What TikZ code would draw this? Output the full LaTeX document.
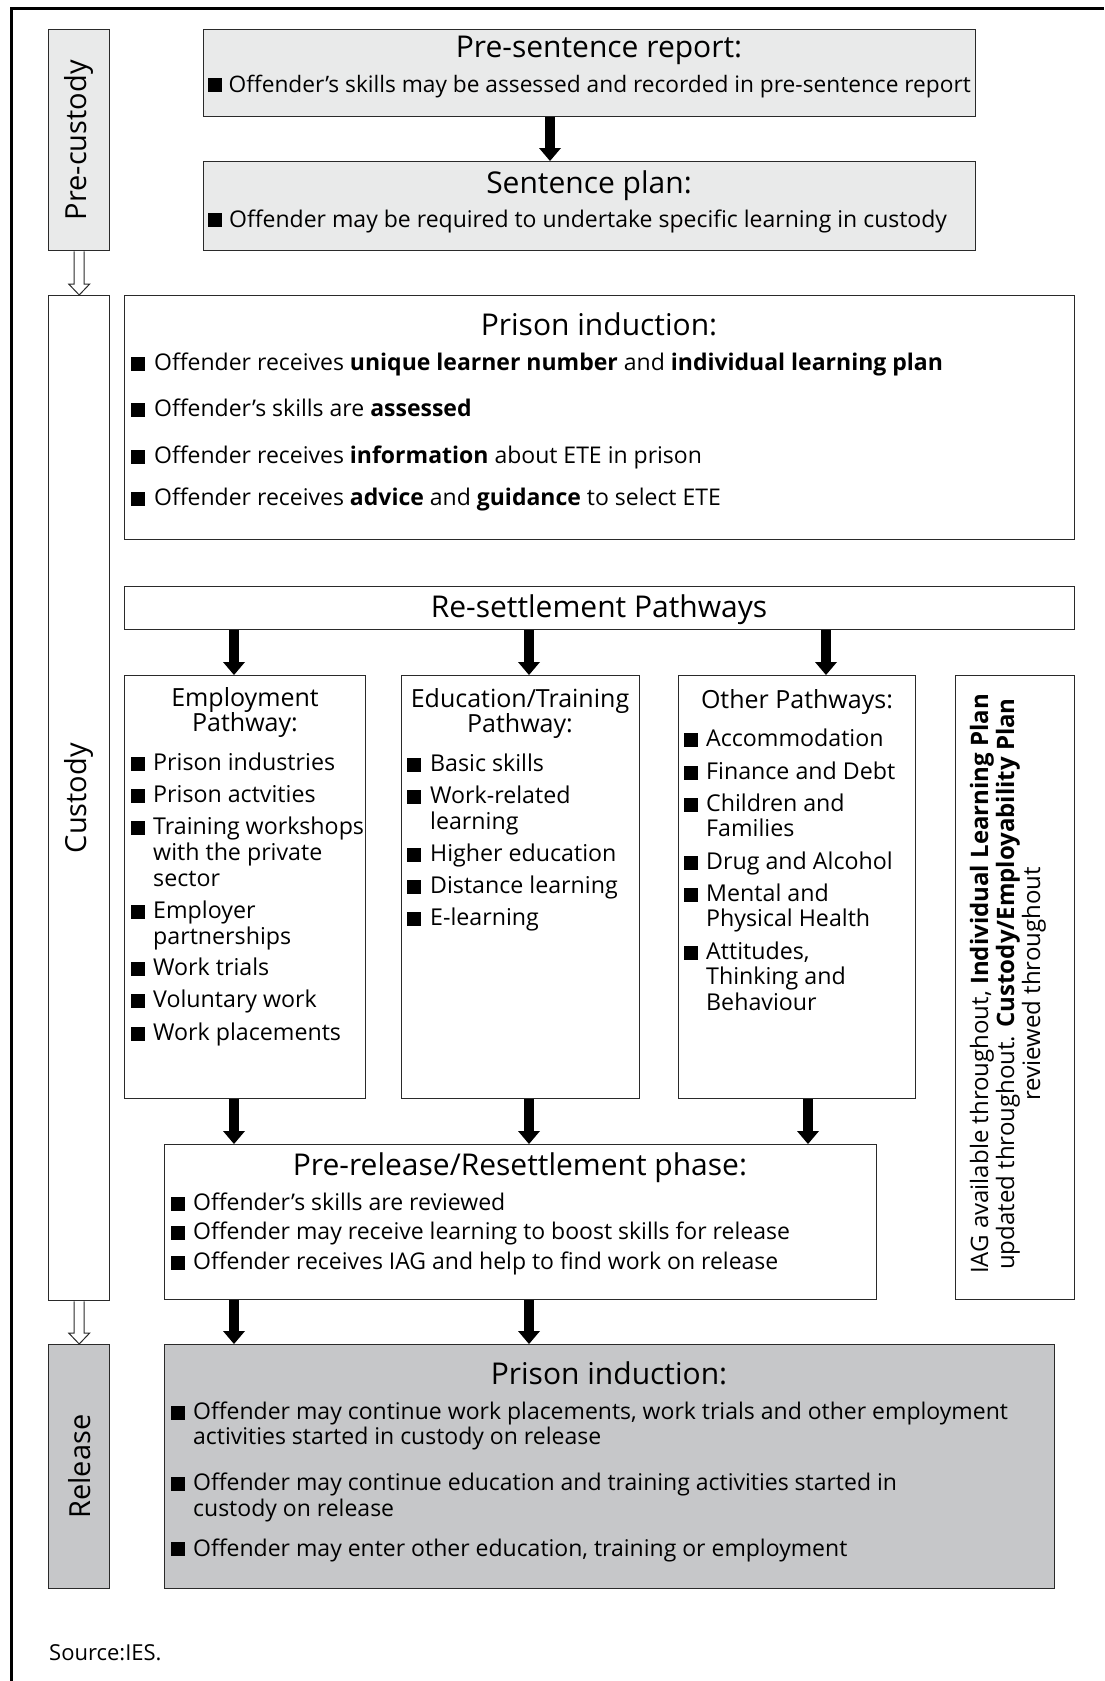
\documentclass[tikz,border=0pt]{standalone}
\usepackage{fontspec}
\setmainfont{Open Sans}
\usetikzlibrary{arrows.meta,calc}
\definecolor{lightbox}{HTML}{E9EAEA}
\definecolor{darkbox}{HTML}{C6C7C9}
\definecolor{edgec}{HTML}{2A2A2A}
\newcommand\fs[2]{\fontsize{#1}{#2}\selectfont}
\newcommand\sq{\rule{0.6em}{0.6em}}
\newcommand\bul[1]{\makebox[#1][l]{\sq}}
\newcounter{tlc}
\newcommand\txl[4][]{\stepcounter{tlc}\node[tx,#1] (tl\arabic{tlc}) at (#2,#3) {#4};}
\tikzset{
  bx/.style={draw=edgec, line width=1.4pt, rectangle, inner sep=0pt, anchor=north west},
  tx/.style={inner sep=0pt, anchor=base west, font=\fs{23}{26}},
  lst/.style={font=\fs{23.2}{26}},
  prl/.style={font=\fs{23}{26}},
  tt/.style={inner sep=0pt, anchor=base, font=\fs{30}{33}},
  pt/.style={inner sep=0pt, anchor=base, font=\fs{25}{28}},
  side/.style={inner sep=0pt, rotate=90, font=\fs{29}{32}},
  sarrow/.style={line width=10pt, -{Triangle[width=22pt,length=13pt,line width=0pt]}},
  hollowline/.style={draw=edgec, line width=1pt, fill=white}
}
\newcommand\hollow[2]{%
  \path[hollowline] let \p1=#1, \p2=#2 in
    (\x1-5pt,\y1) -- (\x1-5pt,\y2+11pt) -- (\x1-10.5pt,\y2+11pt) -- (\x1,\y2)
    -- (\x1+10.5pt,\y2+11pt) -- (\x1+5pt,\y2+11pt) -- (\x1+5pt,\y1);}
\begin{document}
\begin{tikzpicture}[x=1pt,y=-1pt]
\useasboundingbox (0,0) rectangle (1104,1681);
\draw[line width=3pt] (11,1681) -- (11,8) -- (1104,8);

% boxes
\node[bx,fill=lightbox,minimum width=61pt,minimum height=221pt] (pc) at (48,29) {};
\node[bx,fill=lightbox,minimum width=772pt,minimum height=87pt] (pre) at (203,29) {};
\node[bx,fill=lightbox,minimum width=772pt,minimum height=89pt] (sent) at (203,161) {};
\node[bx,minimum width=61pt,minimum height=1005pt] (cu) at (48,295) {};
\node[bx,minimum width=950pt,minimum height=244pt] (ind) at (124,295) {};
\node[bx,minimum width=950pt,minimum height=43pt] (res) at (124,586) {};
\node[bx,minimum width=241pt,minimum height=423pt] (emp) at (124,675) {};
\node[bx,minimum width=238pt,minimum height=423pt] (edu) at (401,675) {};
\node[bx,minimum width=237pt,minimum height=423pt] (oth) at (678,675) {};
\node[bx,minimum width=119pt,minimum height=624pt] (iag) at (955,675) {};
\node[bx,minimum width=712pt,minimum height=155pt] (pr) at (164,1144) {};
\node[bx,fill=darkbox,minimum width=61pt,minimum height=244pt] (rl) at (48,1344) {};
\node[bx,fill=darkbox,minimum width=890pt,minimum height=244pt] (fin) at (164,1344) {};

% arrow columns
\coordinate (a1) at (550,0);
\coordinate (a2) at (234,0);
\coordinate (a3) at (529,0);
\coordinate (a4) at (826,0);
\coordinate (a5) at (808,0);
\draw[sarrow] (a1 |- pre.south) -- (a1 |- sent.north);
\draw[sarrow] (a2 |- res.south) -- (a2 |- emp.north);
\draw[sarrow] (a3 |- res.south) -- (a3 |- edu.north);
\draw[sarrow] (a4 |- res.south) -- (a4 |- oth.north);
\draw[sarrow] (a2 |- emp.south) -- (a2 |- pr.north);
\draw[sarrow] (a3 |- edu.south) -- (a3 |- pr.north);
\draw[sarrow] (a5 |- oth.south) -- (a5 |- pr.north);
\draw[sarrow] (a2 |- pr.south) -- (a2 |- fin.north);
\draw[sarrow] (a3 |- pr.south) -- (a3 |- fin.north);
\hollow{(pc.south)}{(cu.north)}
\hollow{(cu.south)}{(rl.north)}

% side labels
\node[side] (lpc) at (pc.center) {Pre-custody};
\node[side] (lcu) at (cu.center) {Custody};
\node[side] (lrl) at (rl.center) {Release};

% pre-sentence
\node[tt] (tpre) at (599,57.5) {Pre-sentence report:};
\txl[font=\fs{22.7}{26}]{208}{92}{\bul{20.5pt}Offender’s skills may be assessed and recorded in pre-sentence report}
\node[tt] (tsent) at (589,193) {Sentence plan:};
\txl{208}{227}{\bul{21pt}Offender may be required to undertake specific learning in custody}

% prison induction
\node[tt] (tind) at (599,335) {Prison induction:};
\txl{131}{370.5}{\bul{23pt}Offender receives \textbf{unique learner number} and \textbf{individual learning plan}}
\txl{131}{416.5}{\bul{23pt}Offender’s skills are \textbf{assessed}}
\txl{131}{463.5}{\bul{23pt}Offender receives \textbf{information} about ETE in prison}
\txl{131}{505.5}{\bul{23pt}Offender receives \textbf{advice} and \textbf{guidance} to select ETE}

% resettlement
\node[tt] (tres) at (599,617) {Re-settlement Pathways};

% employment
\node[pt] (temp1) at (245,706) {Employment};
\node[pt] (temp2) at (245,731) {Pathway:};
\txl[lst]{131}{770.5}{\bul{22pt}Prison industries}
\txl[lst]{131}{802.5}{\bul{22pt}Prison actvities}
\txl[lst]{131}{834.5}{\bul{22pt}Training workshops}
\txl[lst]{153}{860.5}{with the private}
\txl[lst]{153}{886.5}{sector}
\txl[lst]{131}{918.5}{\bul{22pt}Employer}
\txl[lst]{153}{944.5}{partnerships}
\txl[lst]{131}{975.5}{\bul{22pt}Work trials}
\txl[lst]{131}{1007.5}{\bul{22pt}Voluntary work}
\txl[lst]{131}{1040.5}{\bul{22pt}Work placements}

% education
\node[pt] (tedu1) at (520,707) {Education/Training};
\node[pt] (tedu2) at (520,732) {Pathway:};
\txl[lst]{407}{771.5}{\bul{23pt}Basic skills}
\txl[lst]{407}{803.5}{\bul{23pt}Work-related}
\txl[lst]{430}{829.5}{learning}
\txl[lst]{407}{861.5}{\bul{23pt}Higher education}
\txl[lst]{407}{893.5}{\bul{23pt}Distance learning}
\txl[lst]{407}{925.5}{\bul{23pt}E-learning}

% other
\node[pt] (toth) at (797,708) {Other Pathways:};
\txl[lst]{684}{746.5}{\bul{22pt}Accommodation}
\txl[lst]{684}{779.5}{\bul{22pt}Finance and Debt}
\txl[lst]{684}{811.5}{\bul{22pt}Children and}
\txl[lst]{706}{836.5}{Families}
\txl[lst]{684}{869.5}{\bul{22pt}Drug and Alcohol}
\txl[lst]{684}{901.5}{\bul{22pt}Mental and}
\txl[lst]{706}{926.5}{Physical Health}
\txl[lst]{684}{959.5}{\bul{22pt}Attitudes,}
\txl[lst]{706}{984.5}{Thinking and}
\txl[lst]{706}{1010.5}{Behaviour}

% IAG
\node[inner sep=0pt, rotate=90, align=center, font=\fs{24}{26}] (tiag) at (1008,984)
  {IAG available throughout, \textbf{Individual Learning Plan}\\
   updated throughout. \textbf{Custody/Employability Plan}\\
   reviewed throughout};

% pre-release
\node[tt] (tpr) at (520,1175) {Pre-release/Resettlement phase:};
\txl[prl]{171}{1210.5}{\bul{22pt}Offender’s skills are reviewed}
\txl[prl]{171}{1239.5}{\bul{22pt}Offender may receive learning to boost skills for release}
\txl[prl]{171}{1269.5}{\bul{22pt}Offender receives IAG and help to find work on release}

% release
\node[tt] (tfin) at (609,1384) {Prison induction:};
\txl{171}{1419.5}{\bul{22pt}Offender may continue work placements, work trials and other employment}
\txl{193}{1444.5}{activities started in custody on release}
\txl{171}{1490.5}{\bul{22pt}Offender may continue education and training activities started in}
\txl{193}{1516.5}{custody on release}
\txl{171}{1556}{\bul{22pt}Offender may enter other education, training or employment}

\txl[font=\fs{22}{25}]{49}{1660}{Source:IES.}
\end{tikzpicture}
\end{document}
